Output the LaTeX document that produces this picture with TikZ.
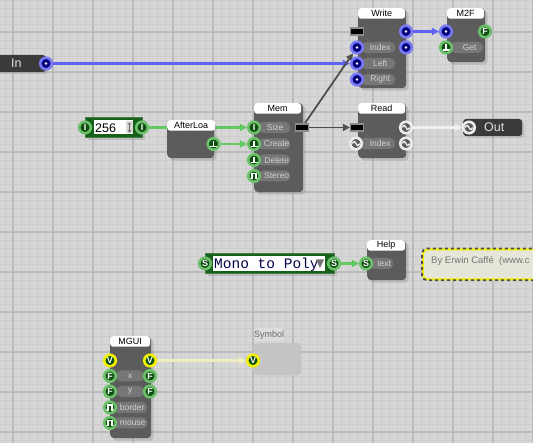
\documentclass[tikz,border=0pt]{standalone}
\usepackage{fontspec}
\setmainfont{Liberation Sans}
\setsansfont{Liberation Sans}
\setmonofont{Liberation Mono}
\usetikzlibrary{arrows.meta, shadows}

\definecolor{bggray}{HTML}{D6D6D6}
\definecolor{minorline}{HTML}{CCCCCC}
\definecolor{majorline}{HTML}{BBBBBB}
\definecolor{bodygray}{HTML}{5C5C5C}
\definecolor{pillgray}{HTML}{767676}
\definecolor{pilltext}{HTML}{D2D2D2}
\definecolor{iogray}{HTML}{3A3A3A}
\definecolor{navy}{HTML}{00007A}
\definecolor{ringblue}{HTML}{7878F4}
\definecolor{darkgreen}{HTML}{0D4D0D}
\definecolor{ringgreen}{HTML}{6CC06C}
\definecolor{widgetgreen}{HTML}{16601A}
\definecolor{ringyellow}{HTML}{F2F000}
\definecolor{ringwhite}{HTML}{ECECEC}
\definecolor{audiogray}{HTML}{5A5A5A}
\definecolor{rectgray}{HTML}{8C8C8C}
\definecolor{wireblue}{HTML}{6262F2}
\definecolor{wiregreen}{HTML}{62C862}
\definecolor{wiredark}{HTML}{4E4E4E}
\definecolor{wirewhite}{HTML}{F0F0F0}
\definecolor{wireyellow}{HTML}{EEEEBE}
\definecolor{notefill}{HTML}{E6E6D8}
\definecolor{notetext}{HTML}{757575}
\definecolor{symhead}{HTML}{DDDDDD}
\definecolor{symbody}{HTML}{C4C4C4}

\pgfdeclarelayer{grid}
\pgfdeclarelayer{wires}
\pgfsetlayers{grid,wires,main}

\tikzset{
    blk/.style={fill=bodygray, rounded corners=4pt, inner sep=0pt, anchor=north west,
        drop shadow={shadow xshift=2.5pt, shadow yshift=-2.5pt, opacity=0.3}},
    head/.style={fill=white, rounded corners=3pt, inner sep=0pt, anchor=north west,
        minimum height=10.5pt, font=\fontsize{9}{9}\selectfont},
    pill/.style={fill=pillgray, rounded corners=5pt, inner sep=0pt, anchor=west,
        minimum height=11pt, text=pilltext, font=\fontsize{8.5}{9}\selectfont},
    port/.style={circle, minimum size=11.5pt, inner sep=0pt, line width=2.6pt,
        text=white, font=\bfseries\fontsize{9}{9}\selectfont},
    bport/.style={port, draw=ringblue, fill=navy,
        path picture={\fill[white] (path picture bounding box.center) circle (1.4pt);}},
    gport/.style={port, draw=ringgreen, fill=darkgreen},
    vport/.style={port, draw=ringyellow, fill=darkgreen},
    trig/.style={gport, path picture={
        \draw[white, line width=1.3pt]
            ([shift={(-3.5pt,-2.5pt)}]path picture bounding box.center) -- ++(7pt,0pt)
            ([shift={(0pt,-2.5pt)}]path picture bounding box.center) -- ++(0pt,5.5pt);}},
    pulse/.style={gport, path picture={
        \draw[white, line width=1.2pt]
            ([shift={(-4pt,-2.5pt)}]path picture bounding box.center) -- ++(2pt,0pt)
            -- ++(0pt,5pt) -- ++(4pt,0pt) -- ++(0pt,-5pt) -- ++(2pt,0pt);}},
    sport/.style={port, draw=ringwhite, fill=audiogray, path picture={
        \draw[white, line width=1.2pt]
            ([shift={(-3.6pt,0pt)}]path picture bounding box.center)
            sin ++(1.8pt,2pt) cos ++(1.8pt,-2pt) sin ++(1.8pt,-2pt) cos ++(1.8pt,2pt);}},
    rport/.style={fill=black, draw=rectgray, line width=1.2pt, minimum width=13pt,
        minimum height=7pt, inner sep=0pt},
    iobar/.style={fill=iogray, rounded corners=3pt, inner sep=0pt, minimum height=17pt,
        drop shadow={shadow xshift=2pt, shadow yshift=-2pt, opacity=0.3}},
    iotext/.style={text=white!88!black, inner sep=0pt, anchor=west, font=\fontsize{12.5}{12.5}\selectfont},
    widget/.style={fill=widgetgreen, draw=widgetgreen!80!white, line width=0.8pt, inner sep=0pt,
        minimum height=20pt, drop shadow={shadow xshift=2.5pt, shadow yshift=-2.5pt, opacity=0.3}},
    entry/.style={fill=white, inner sep=0pt, minimum height=14pt},
    wire/.style={line width=2.4pt, -{Triangle[length=7pt,width=7pt]}},
    minor/.style={minorline, line width=0.7pt},
    major/.style={majorline, line width=1.1pt}
}

\begin{document}
\begin{tikzpicture}[x=1pt, y=-1pt, font=\sffamily]
    \useasboundingbox (0,0) rectangle (533,443);
    % grid
    \begin{pgfonlayer}{grid}
        \fill[bggray] (0,0) rectangle (533,443);
        \foreach \x in {5,13,...,533} \draw[minor] (\x,0) -- (\x,443);
        \foreach \y in {0,8,...,440} \draw[minor] (0,\y) -- (533,\y);
        \foreach \x in {13,53,...,533} \draw[major] (\x,0) -- (\x,443);
        \foreach \y in {32,72,...,432} \draw[major] (0,\y) -- (533,\y);
    \end{pgfonlayer}

    % In / Out
    \node[iobar, minimum width=52pt, anchor=east] (in) at (46,63.5) {};
    \node[iotext] (in-t) at (11,63.5) {In};
    \node[bport] (in-o) at (46,63.5) {};
    \node[iobar, minimum width=59pt, anchor=west] (out) at (463,127.5) {};
    \node[iotext] (out-t) at (484,127.5) {Out};
    \node[sport] (out-i) at (469,127.5) {};

    % Write
    \node[blk, minimum width=48pt, minimum height=80pt] (wr) at (358,8) {};
    \node[head, minimum width=47pt] (wr-h) at (358,8) {Write};
    \node[pill, minimum width=34pt] (wr-idx-l) at (361,47.5) {\hspace*{4pt}Index};
    \node[pill, minimum width=34pt] (wr-left-l) at (361,63.5) {\hspace*{4pt}Left};
    \node[pill, minimum width=34pt] (wr-right-l) at (361,79.5) {\hspace*{4pt}Right};
    \node[rport] (wr-in) at (357,31.5) {};
    \node[bport] (wr-idx) at (357,47.5) {};
    \node[bport] (wr-left) at (357,63.5) {};
    \node[bport] (wr-right) at (357,79.5) {};
    \node[bport] (wr-o1) at (406,31.5) {};
    \node[bport] (wr-o2) at (406,47.5) {};

    % M2F
    \node[blk, minimum width=38pt, minimum height=54pt] (m2f) at (447,8) {};
    \node[head, minimum width=37pt] (m2f-h) at (447,8) {M2F};
    \node[pill, minimum width=33pt] (m2f-get-l) at (450,47.5) {\hspace*{6pt}Get};
    \node[bport] (m2f-in) at (446,31.5) {};
    \node[gport] (m2f-f) at (485,31.5) {F};
    \node[trig] (m2f-get) at (446,47.5) {};

    % 256
    \node[widget, minimum width=57pt, anchor=west] (num) at (85,127.5) {};
    \node[entry, minimum width=39pt, anchor=west] (num-e) at (94,127.5) {};
    \node[anchor=west, inner sep=0pt, font=\fontsize{12.5}{12.5}\selectfont] (num-t) at (95,128) {256};
    \node[fill=black!15, inner sep=0pt, minimum width=7pt, minimum height=12pt] (num-spin) at (129.5,127.5) {};
    \draw[black!60, line width=0.7pt, {Triangle[length=2pt,width=3pt]}-{Triangle[length=2pt,width=3pt]}] (129.5,122.5) -- (129.5,132.5);
    \node[gport] (num-l) at (85,127.5) {I};
    \node[gport] (num-r) at (142,127.5) {I};

    % AfterLoa
    \node[blk, minimum width=47pt, minimum height=38pt] (al) at (167,120) {};
    \node[head, minimum width=48pt] (al-h) at (167,120) {AfterLoa};
    \node[trig] (al-o) at (213.5,144) {};

    % Mem
    \node[blk, minimum width=49pt, minimum height=89pt] (mem) at (254,103) {};
    \node[head, minimum width=47pt] (mem-h) at (254,103) {Mem};
    \node[pill, minimum width=32pt] (mem-size-l) at (258,127.5) {\hspace*{2pt}Size};
    \node[pill, minimum width=32pt] (mem-create-l) at (258,144) {\hspace*{5pt}Create};
    \node[pill, minimum width=32pt] (mem-delete-l) at (258,160) {\hspace*{5pt}Delete};
    \node[pill, minimum width=32pt] (mem-stereo-l) at (258,176) {\hspace*{5pt}Stereo};
    \node[gport] (mem-size) at (254,127.5) {I};
    \node[trig] (mem-create) at (254,144) {};
    \node[trig] (mem-delete) at (254,160) {};
    \node[pulse] (mem-stereo) at (254,176) {};
    \node[rport] (mem-out) at (302,127.5) {};

    % Read
    \node[blk, minimum width=48pt, minimum height=55pt] (rd) at (358,103) {};
    \node[head, minimum width=47pt] (rd-h) at (358,103) {Read};
    \node[pill, minimum width=36pt] (rd-idx-l) at (359,143.5) {\hspace*{6pt}Index};
    \node[rport] (rd-in) at (357,127.5) {};
    \node[sport] (rd-idx) at (356,143.5) {};
    \node[sport] (rd-o1) at (406,127.5) {};
    \node[sport] (rd-o2) at (406,143.5) {};

    % Mono to Poly
    \node[widget, minimum width=129pt, anchor=west] (mp) at (205,263.5) {};
    \node[entry, minimum width=112pt, minimum height=15pt, anchor=west] (mp-e) at (213,263.5) {};
    \node[anchor=west, inner sep=0pt, text=navy!60!black, font=\ttfamily\fontsize{14.5}{14.5}\selectfont] (mp-t) at (214,264.5) {Mono to Poly};
    \fill[black!55] (316,259.5) -- (324,259.5) -- (320,268) -- cycle;
    \node[gport] (mp-l) at (205,263.5) {S};
    \node[gport] (mp-r) at (334,263.5) {S};

    % Help
    \node[blk, minimum width=39pt, minimum height=40pt] (hp) at (367,240) {};
    \node[head, minimum width=38pt] (hp-h) at (367,240) {Help};
    \node[pill, minimum width=24pt] (hp-text-l) at (369,263.5) {\hspace*{6pt}text};
    \node[gport] (hp-text) at (366,263.5) {S};

    % note
    \node[fill=notefill, draw=ringyellow, line width=1.8pt, rounded corners=5pt, inner sep=0pt,
        minimum width=130pt, minimum height=30pt, anchor=north west] (note) at (422,248.5) {};
    \draw[black!70, line width=1.8pt, dash pattern=on 3pt off 3pt, rounded corners=5pt]
        ([xshift=20pt]note.north east) -- (note.north west) -- (note.south west) -- ([xshift=20pt]note.south east);
    \node[anchor=west, inner sep=0pt, text=notetext, font=\fontsize{9.5}{9.5}\selectfont] (note-t) at (431,261) {By Erwin Caff\'e\ \ (www.c};

    % MGUI
    \node[blk, minimum width=41pt, minimum height=102pt] (gui) at (110,336) {};
    \node[head, minimum width=40pt] (gui-h) at (110,336) {MGUI};
    \node[pill, minimum width=28pt] (gui-x-l) at (116,376) {x};
    \node[pill, minimum width=28pt] (gui-y-l) at (116,391.5) {y};
    \node[pill, minimum width=34pt] (gui-b-l) at (113,407.5) {\hspace*{4pt}border};
    \node[pill, minimum width=34pt] (gui-m-l) at (113,423) {\hspace*{5pt}mouse};
    \node[vport] (gui-v1) at (110,360.5) {V};
    \node[vport] (gui-v2) at (150,360.5) {V};
    \node[gport] (gui-x1) at (110,376) {F};
    \node[gport] (gui-x2) at (150,376) {F};
    \node[gport] (gui-y1) at (110,391.5) {F};
    \node[gport] (gui-y2) at (150,391.5) {F};
    \node[pulse] (gui-b) at (110,407.5) {};
    \node[pulse] (gui-m) at (110,423) {};

    % Symbol
    \node[fill=symhead, rounded corners=2pt, inner sep=0pt, minimum width=30pt, minimum height=13pt, anchor=north west,
        text=black!60, font=\fontsize{9}{9}\selectfont] (sym-h) at (254,328) {Symbol};
    \node[fill=symbody, rounded corners=4pt, inner sep=0pt, minimum width=48pt, minimum height=32pt,
        anchor=north west] (sym) at (253,343) {};
    \node[vport] (sym-v) at (253,360.5) {V};

    % wires
    \begin{pgfonlayer}{wires}
        \draw[wire, wireblue] (in-o) -- (wr-left);
        \draw[wire, wireblue] (wr-o1) -- (m2f-in);
        \draw[wire, wiregreen] (num-r) -- (mem-size);
        \draw[wire, wiregreen] (al-o) -- (mem-create);
        \draw[wire, wiredark, line width=1.8pt] (mem-out) -- (rd-in);
        \draw[wire, wiredark, line width=1.8pt] (mem-out) -- (wr-idx);
        \draw[wire, wirewhite] (rd-o1) -- (out-i);
        \draw[wire, wiregreen] (mp-r) -- (hp-text);
        \draw[wire, wireyellow] (gui-v2) -- (sym-v);
    \end{pgfonlayer}
\end{tikzpicture}
\end{document}
